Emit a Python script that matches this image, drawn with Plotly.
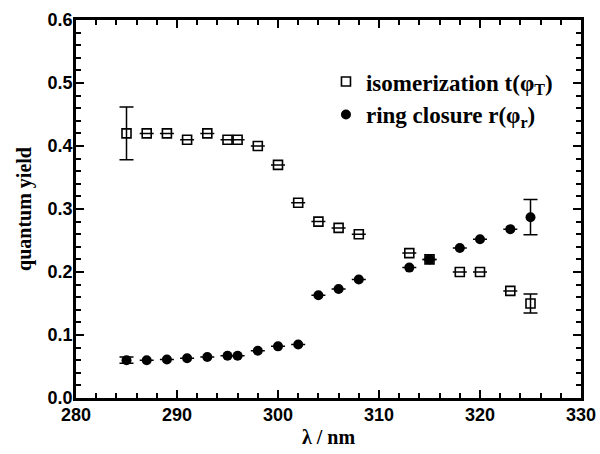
import plotly.graph_objects as go

wavelength = [285, 287, 289, 291, 293, 295, 296, 298, 300, 302, 304, 306, 308, 313, 315, 318, 320, 323, 325]
iso_yield = [0.42, 0.42, 0.42, 0.41, 0.42, 0.41, 0.41, 0.40, 0.37, 0.31, 0.28, 0.27, 0.26, 0.23, 0.22, 0.20, 0.20, 0.17, 0.15]
iso_err = [0.042, 0, 0, 0, 0, 0, 0, 0, 0, 0, 0, 0, 0, 0, 0, 0, 0, 0, 0.015]
ring_yield = [0.060, 0.060, 0.061, 0.063, 0.065, 0.067, 0.067, 0.075, 0.082, 0.085, 0.163, 0.173, 0.188, 0.207, 0.220, 0.238, 0.252, 0.268, 0.287]
ring_err = [0.005, 0, 0, 0, 0, 0, 0, 0, 0, 0, 0, 0, 0, 0, 0, 0, 0, 0, 0.028]

x_ticks = [280, 290, 300, 310, 320, 330]
x_ticktext = ["280", "290", "300", "310", "320", "330"]
y_ticks = [0.0, 0.1, 0.2, 0.3, 0.4, 0.5, 0.6]
y_ticktext = ["0.0", "0.1", "0.2", "0.3", "0.4", "0.5", "0.6"]

def visible_err(errs):
    return [e if e > 0 else None for e in errs]

fig = go.Figure()
fig.add_trace(go.Scatter(
    x=wavelength, y=iso_yield, mode="markers",
    name="isomerization t(φ<sub>T</sub>)",
    marker=dict(symbol="square-open", size=9, color="black", line=dict(width=1.6, color="black")),
    error_y=dict(type="data", array=visible_err(iso_err), color="black", thickness=1.5, width=7, visible=True),
))
fig.add_trace(go.Scatter(
    x=wavelength, y=ring_yield, mode="markers",
    name="ring closure r(φ<sub>r</sub>)",
    marker=dict(symbol="circle", size=10, color="black"),
    error_y=dict(type="data", array=visible_err(ring_err), color="black", thickness=1.5, width=7, visible=True),
))

axis_common = dict(
    showline=True, linecolor="black", linewidth=2.5, mirror="ticks",
    ticks="inside", ticklen=8, tickwidth=2, tickcolor="black",
    showgrid=False, zeroline=False, automargin=False,
    tickfont=dict(family="Liberation Sans, Arial", size=18, color="black", weight="bold"),
)

title_font = dict(family="Liberation Serif, Times New Roman, serif", size=20, color="black", weight="bold")

fig.update_xaxes(
    range=[280, 330], tickvals=x_ticks, ticktext=x_ticktext,
    minor=dict(ticks="inside", dtick=2, tick0=280, ticklen=5, tickwidth=1.5, tickcolor="black"),
    title=dict(text="λ / nm", font=title_font, standoff=6),
    ticklabelstandoff=-1,
    **axis_common,
)
fig.update_yaxes(
    range=[0, 0.6], tickvals=y_ticks, ticktext=y_ticktext,
    minor=dict(ticks="inside", dtick=0.02, tick0=0, ticklen=5, tickwidth=1.5, tickcolor="black"),
    title=dict(text="quantum yield", font=title_font, standoff=11),
    ticklabelstandoff=-3,
    **axis_common,
)

fig.update_layout(
    width=600, height=454,
    margin=dict(l=76, r=19, t=20, b=56),
    plot_bgcolor="white", paper_bgcolor="white",
    showlegend=True,
    legend=dict(
        x=0.495, y=0.894, xanchor="left", yanchor="top",
        font=dict(family="Liberation Serif, Times New Roman, serif", size=23, color="black", weight="bold"),
        bgcolor="rgba(0,0,0,0)", itemwidth=30,
    ),
)

fig.write_html("out.html", config={"displayModeBar": False},
               post_script="document.body.style.margin='0';")
